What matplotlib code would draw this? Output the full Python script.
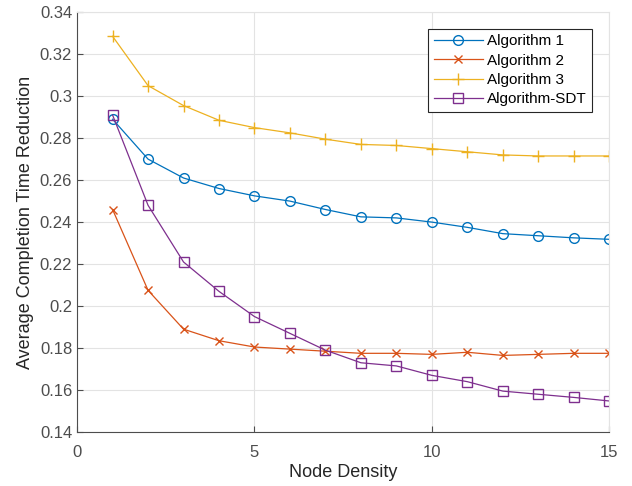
import numpy as np
import matplotlib
matplotlib.use("Agg")
import matplotlib.pyplot as plt

plt.rcParams['font.family'] = ['Liberation Sans', 'DejaVu Sans']

# Data
node_density = np.arange(1, 16)
alg1 = [0.289, 0.270, 0.261, 0.256, 0.2525, 0.250, 0.246, 0.2425, 0.242, 0.240,
        0.2375, 0.2345, 0.2335, 0.2325, 0.2318]
alg2 = [0.246, 0.2075, 0.189, 0.1835, 0.1805, 0.1795, 0.1785, 0.1775, 0.1775, 0.177,
        0.178, 0.1765, 0.177, 0.1775, 0.1775]
alg3 = [0.3285, 0.305, 0.2955, 0.2885, 0.285, 0.2825, 0.2795, 0.277, 0.2765, 0.275,
        0.2735, 0.272, 0.2715, 0.2715, 0.2715]
alg_sdt = [0.291, 0.248, 0.221, 0.207, 0.195, 0.187, 0.179, 0.173, 0.1715, 0.167,
           0.164, 0.1595, 0.158, 0.1565, 0.1548]

fig = plt.figure(figsize=(6.32, 4.86), dpi=100)
ax = fig.add_axes([0.122, 0.111, 0.842, 0.864])

ax.plot(node_density, alg1, color='#0072BD', marker='o', markersize=7,
        markerfacecolor='none', linewidth=0.9, label='Algorithm 1')
ax.plot(node_density, alg2, color='#D95319', marker='x', markersize=6,
        linewidth=0.9, label='Algorithm 2')
ax.plot(node_density, alg3, color='#EDB120', marker='+', markersize=8,
        linewidth=0.9, label='Algorithm 3')
ax.plot(node_density, alg_sdt, color='#7E2F8E', marker='s', markersize=6.5,
        markerfacecolor='none', linewidth=0.9, label='Algorithm-SDT')

ax.set_xlim(0, 15)
ax.set_ylim(0.14, 0.34)
ax.set_xticks([0, 5, 10, 15])
ax.set_yticks(np.arange(0.14, 0.3401, 0.02))
ax.yaxis.set_major_formatter(matplotlib.ticker.FormatStrFormatter('%g'))
ax.grid(True, color='#e3e3e3', linewidth=0.8)
ax.set_axisbelow(True)
ax.tick_params(direction='in', labelsize=12, colors='#4d4d4d', length=4)
ax.tick_params(axis='x', pad=9)
for s in ['top', 'right']:
    ax.spines[s].set_color('#e3e3e3')
for s in ['left', 'bottom']:
    ax.spines[s].set_color('#4d4d4d')

ax.set_xlabel('Node Density', fontsize=13, color='#262626', labelpad=3)
ax.set_ylabel('Average Completion Time Reduction', fontsize=13, color='#262626')

leg = ax.legend(loc='upper right', bbox_to_anchor=(0.968, 0.96), fontsize=11,
                fancybox=False, edgecolor='#262626', framealpha=1,
                borderpad=0.35, labelspacing=0.35, handlelength=3.2,
                handletextpad=0.3, borderaxespad=0)
leg.get_frame().set_linewidth(0.8)

fig.savefig('out.png', dpi=100)
